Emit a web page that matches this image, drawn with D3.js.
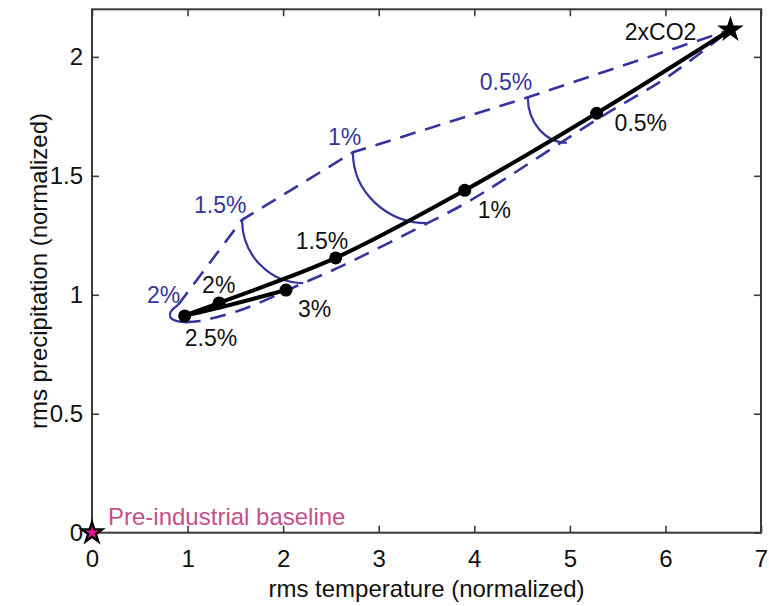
<!DOCTYPE html>
<html>
<head>
<meta charset="utf-8">
<script src="https://cdn.jsdelivr.net/npm/d3@7/dist/d3.min.js"></script>
<style>
  html, body { margin: 0; padding: 0; background: #fff; }
  svg { display: block; }
  text { font-family: "Liberation Sans", Arial, Helvetica, sans-serif; }
</style>
</head>
<body>
<svg id="chart" width="769" height="606"></svg>
<script>
// Emission-rate pathways: rms temperature vs rms precipitation (normalized)
const rateLabels = ["0.5%", "1%", "1.5%", "2%", "2.5%", "3%"];
const tempRms    = [5.28, 3.90, 2.55, 1.33, 0.97, 2.03];
const precipRms  = [1.763, 1.439, 1.155, 0.966, 0.911, 1.02];

// Doubled-CO2 end state and pre-industrial origin
const co2Point      = [6.68, 2.114];
const baselinePoint = [0, 0];

// Transient peak response (upper dashed branch)
const peakLabels = ["2%", "1.5%", "1%", "0.5%"];
const peakTemp   = [0.90, 1.57, 2.73, 4.56];
const peakPrecip = [0.957, 1.315, 1.599, 1.83];

// Settled response (lower dashed branch)
const settledTemp   = [0.97, 1.13, 1.55, 2.21, 2.65, 3.51, 3.96, 5.32, 6.02, 6.68];
const settledPrecip = [0.885, 0.89, 0.935, 1.049, 1.128, 1.301, 1.397, 1.746, 1.915, 2.114];

// Where each peak relaxes to on the settled branch
const relaxTemp   = [1.00, 2.21, 3.505, 4.97];
const relaxPrecip = [0.885, 1.049, 1.301, 1.639];

// Axis ticks
const xTicks = [0, 1, 2, 3, 4, 5, 6, 7];
const yTicks = [0, 0.5, 1, 1.5, 2];

const margin = { left: 92, top: 9.3, right: 8, bottom: 73.3 };
const W = 769, H = 606;
const iw = W - margin.left - margin.right;
const ih = H - margin.top - margin.bottom;

const blue = "#35359d";
const svg = d3.select("#chart");
const g = svg.append("g").attr("transform", `translate(${margin.left},${margin.top})`);

const x = d3.scaleLinear().domain([0, 7]).range([0, iw]);
const y = d3.scaleLinear().domain([0, 2.2]).range([ih, 0]);

// Frame
g.append("rect").attr("width", iw).attr("height", ih)
  .attr("fill", "none").attr("stroke", "#3a3a3a").attr("stroke-width", 2);

const fmt = d => d3.format("~g")(d);
const tick = 7;
function styleAxis(sel) {
  sel.select(".domain").remove();
  sel.selectAll(".tick line").attr("stroke", "#3a3a3a").attr("stroke-width", 1.6);
  sel.selectAll("text").attr("font-size", 24).attr("fill", "#111")
    .attr("font-family", '"Liberation Sans", Arial, sans-serif');
}
g.append("g").attr("transform", `translate(0,${ih})`)
  .call(d3.axisBottom(x).tickValues(xTicks).tickFormat(fmt).tickSizeInner(-tick).tickSizeOuter(0).tickPadding(17))
  .call(styleAxis);
g.append("g")
  .call(d3.axisTop(x).tickValues(xTicks).tickFormat("").tickSizeInner(-tick).tickSizeOuter(0))
  .call(styleAxis);
g.append("g")
  .call(d3.axisLeft(y).tickValues(yTicks).tickFormat(fmt).tickSizeInner(-tick).tickSizeOuter(0).tickPadding(9))
  .call(styleAxis);
g.append("g").attr("transform", `translate(${iw},0)`)
  .call(d3.axisRight(y).tickValues(yTicks).tickFormat("").tickSizeInner(-tick).tickSizeOuter(0))
  .call(styleAxis);

// Axis titles
svg.append("text").attr("x", margin.left + iw / 2).attr("y", 597)
  .attr("text-anchor", "middle").attr("font-size", 24).attr("fill", "#111")
  .text("rms temperature (normalized)");
svg.append("text")
  .attr("transform", `translate(47,${margin.top + ih / 2}) rotate(-90)`)
  .attr("text-anchor", "middle").attr("font-size", 24).attr("fill", "#111")
  .text("rms precipitation (normalized)");

// Dashed branches
const peakPts = peakTemp.map((t, i) => [t, peakPrecip[i]]).concat([co2Point]);
const settledPts = settledTemp.map((t, i) => [t, settledPrecip[i]]);
g.append("path").attr("d", d3.line().x(d => x(d[0])).y(d => y(d[1]))(peakPts))
  .attr("fill", "none").attr("stroke", blue).attr("stroke-width", 2.6)
  .attr("stroke-dasharray", "16,10");
g.append("path").attr("d", d3.line().x(d => x(d[0])).y(d => y(d[1])).curve(d3.curveCatmullRom.alpha(0.5))(settledPts))
  .attr("fill", "none").attr("stroke", blue).attr("stroke-width", 2.6)
  .attr("stroke-dasharray", "16,10");

// Relaxation arcs: curve from each peak down and across to its settled point
const k = 0.5523;
peakTemp.forEach((t, i) => {
  const x0 = x(t), y0 = y(peakPrecip[i]);
  const x1 = x(relaxTemp[i]), y1 = y(relaxPrecip[i]);
  // the shortest arc bows outward to the left before turning
  const lean = i === 0 ? 14 : 0;
  const p = d3.path();
  p.moveTo(x0, y0);
  p.bezierCurveTo(x0 - lean, y0 + k * (y1 - y0), x1 - k * (x1 - x0) - lean, y1, x1, y1);
  g.append("path").attr("d", p.toString())
    .attr("fill", "none").attr("stroke", blue).attr("stroke-width", 2.2);
});

// Main trajectory: 2xCO2 through each emission rate
const trajPts = [co2Point].concat(tempRms.map((t, i) => [t, precipRms[i]]));
g.append("path")
  .attr("d", d3.line().x(d => x(d[0])).y(d => y(d[1])).curve(d3.curveCatmullRom.alpha(0.5))(trajPts))
  .attr("fill", "none").attr("stroke", "#000").attr("stroke-width", 4)
  .attr("stroke-linejoin", "round");

g.selectAll("circle.rate").data(tempRms).join("circle").attr("class", "rate")
  .attr("cx", d => x(d)).attr("cy", (d, i) => y(precipRms[i])).attr("r", 6.5)
  .attr("fill", "#000");

// Stars
const star = r => d3.symbol(d3.symbolStar, r * r / 0.8908130915292852)();
g.append("path").attr("d", star(14))
  .attr("transform", `translate(${x(co2Point[0])},${y(co2Point[1])})`).attr("fill", "#000");
g.append("path").attr("d", star(14.5))
  .attr("transform", `translate(${x(baselinePoint[0])},${y(baselinePoint[1])})`).attr("fill", "#000");
g.append("path").attr("d", star(7))
  .attr("transform", `translate(${x(baselinePoint[0])},${y(baselinePoint[1])})`).attr("fill", "#e0158e");

// Rate labels on the trajectory
const rateOffsets = {
  "0.5%": [18, 18], "1%": [13, 28], "1.5%": [-40, -9],
  "2%": [-17, -10], "2.5%": [0, 30], "3%": [12, 27]
};
rateLabels.forEach((lab, i) => {
  const o = rateOffsets[lab];
  g.append("text").attr("x", x(tempRms[i]) + o[0]).attr("y", y(precipRms[i]) + o[1])
    .attr("font-size", 23).attr("fill", "#111").text(lab);
});

// Rate labels on the peak branch
const peakOffsets = { "2%": [-31, -2], "1.5%": [-48, -7], "1%": [-25, -7], "0.5%": [-48, -7] };
peakLabels.forEach((lab, i) => {
  const o = peakOffsets[lab];
  g.append("text").attr("x", x(peakTemp[i]) + o[0]).attr("y", y(peakPrecip[i]) + o[1])
    .attr("font-size", 23).attr("fill", blue).text(lab);
});

g.append("text").attr("x", x(co2Point[0]) - 34).attr("y", y(co2Point[1]) + 10)
  .attr("text-anchor", "end").attr("font-size", 23).attr("fill", "#111").text("2xCO2");
g.append("text").attr("x", x(baselinePoint[0]) + 16).attr("y", y(baselinePoint[1]) - 8)
  .attr("font-size", 24).attr("fill", "#c4508a").text("Pre-industrial baseline");
</script>
</body>
</html>
